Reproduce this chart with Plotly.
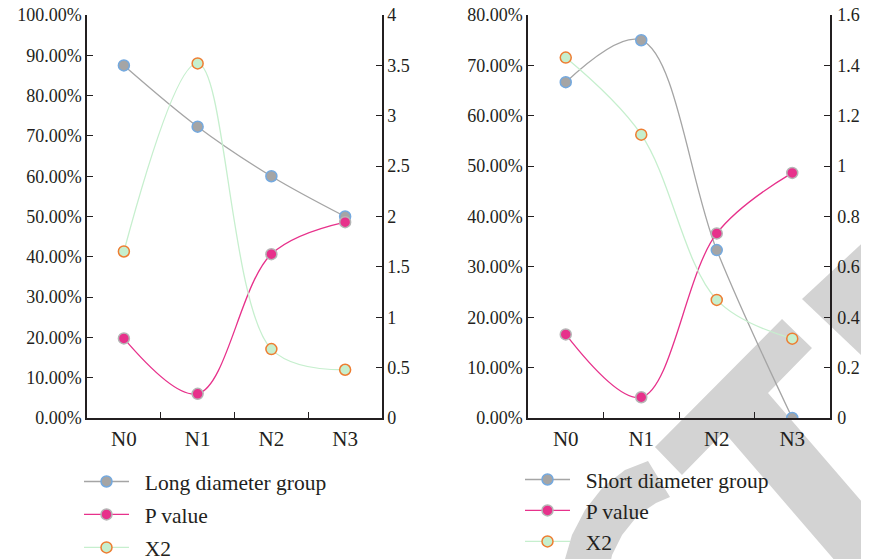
import plotly.graph_objects as go

categories = ["N0", "N1", "N2", "N3"]

# Left chart
long_group = [0.875, 0.723, 0.600, 0.500]
long_p = [0.1975, 0.060, 0.4066, 0.486]
long_x2 = [1.653, 3.52, 0.684, 0.479]

# Right chart
short_group = [0.6667, 0.750, 0.3333, 0.0]
short_p = [0.166, 0.0412, 0.3665, 0.4866]
short_x2 = [1.431, 1.125, 0.469, 0.315]

left_pct_ticks = [i / 10 for i in range(11)]
left_x2_ticks = [0, 0.5, 1, 1.5, 2, 2.5, 3, 3.5, 4]
right_pct_ticks = [i / 10 for i in range(9)]
right_x2_ticks = [0, 0.2, 0.4, 0.6, 0.8, 1, 1.2, 1.4, 1.6]

W, H = 869, 559
OFF = 8  # page body margin
MT = 15 - OFF
MB = H - (418 - OFF)
PH = H - MT - MB

FONT = "Liberation Serif"
GRAY = "#a5a5a5"
PINK = "#e7318b"
GREEN = "#c6efce"
BLUE = "#74a9df"
ORANGE = "#ee7d31"
NB = "\u00a0\u00a0"


def px_x(x):
    return (x - OFF) / W


def px_y(y):
    return (H - MB - (y - OFF)) / PH


def path(points):
    s = "M " + " L ".join(f"{px_x(x):.4f},{px_y(y):.4f}" for x, y in points) + " Z"
    return s


fig = go.Figure()


def add_series(xa, ya, ya2, grp, p, x2, name, legend, gid):
    fig.add_trace(go.Scatter(
        x=categories, y=grp, name=NB + name, xaxis=xa, yaxis=ya, legend=legend,
        legendgroup=gid + "a",
        mode="lines+markers", line=dict(color=GRAY, width=1.3, shape="spline", smoothing=1),
        marker=dict(size=11, color=GRAY, line=dict(color=BLUE, width=1.5))))
    fig.add_trace(go.Scatter(
        x=categories, y=p, name=NB + "P value", xaxis=xa, yaxis=ya, legend=legend,
        legendgroup=gid + "b",
        mode="lines+markers", line=dict(color=PINK, width=1.3, shape="spline", smoothing=1),
        marker=dict(size=11, color=PINK, line=dict(color="#b5b5b5", width=1.5))))
    fig.add_trace(go.Scatter(
        x=categories, y=x2, name=NB + "X2", xaxis=xa, yaxis=ya2, legend=legend,
        legendgroup=gid + "c",
        mode="lines+markers", line=dict(color=GREEN, width=1.3, shape="spline", smoothing=1),
        marker=dict(size=11, color=GREEN, line=dict(color=ORANGE, width=1.5))))


add_series("x", "y", "y2", long_group, long_p, long_x2, "Long diameter group", "legend", "L")
add_series("x2", "y3", "y4", short_group, short_p, short_x2, "Short diameter group", "legend2", "R")

yfont = dict(family=FONT, size=18, color="#231f20")
xfont = dict(family=FONT, size=21, color="#231f20")
axis_common = dict(showline=True, linecolor="#231f20", linewidth=1.5, ticks="inside",
                   ticklen=6, tickwidth=1.3, tickcolor="#231f20", showgrid=False,
                   zeroline=False, automargin=False, ticklabeloverflow="allow")

fig.update_layout(
    width=W, height=H,
    margin=dict(l=0, r=0, t=MT, b=MB, autoexpand=False),
    paper_bgcolor="white", plot_bgcolor="rgba(0,0,0,0)",
    font=dict(family=FONT, size=18, color="#231f20"),
    xaxis=dict(domain=[px_x(87), px_x(382)], anchor="y", range=[-0.5, 3.5],
               tickson="boundaries", tickfont=xfont, ticklabelstandoff=1, **axis_common),
    yaxis=dict(anchor="x", range=[0, 1.0001], tickvals=left_pct_ticks, tickformat=".2%",
               tickfont=yfont, ticklabelstandoff=0, **axis_common),
    yaxis2=dict(anchor="x", overlaying="y", side="right", range=[0, 4.0004],
                tickvals=left_x2_ticks, tickfont=yfont, ticklabelstandoff=0, **axis_common),
    xaxis2=dict(domain=[px_x(528), px_x(830)], anchor="y3", range=[-0.5, 3.5],
                tickson="boundaries", tickfont=xfont, ticklabelstandoff=1, **axis_common),
    yaxis3=dict(anchor="x2", range=[0, 0.80008], tickvals=right_pct_ticks, tickformat=".2%",
                tickfont=yfont, ticklabelstandoff=0, **axis_common),
    yaxis4=dict(anchor="x2", overlaying="y3", side="right", range=[0, 1.60016],
                tickvals=right_x2_ticks, tickfont=yfont, ticklabelstandoff=2, **axis_common),
    legend=dict(x=px_x(79), y=px_y(461), xanchor="left", yanchor="top",
                bgcolor="rgba(0,0,0,0)", font=dict(family=FONT, size=21.5),
                itemwidth=45, tracegroupgap=2, traceorder="grouped"),
    legend2=dict(x=px_x(520), y=px_y(459), xanchor="left", yanchor="top",
                 bgcolor="rgba(0,0,0,0)", font=dict(family=FONT, size=21.5),
                 itemwidth=45, tracegroupgap=0, traceorder="grouped"),
    showlegend=True,
)

WM = "#d3d3d3"
shapes = [
    dict(type="path", xref="paper", yref="paper", layer="below", line=dict(width=0),
         fillcolor=WM,
         path=path([(655, 447), (782, 319), (812, 348), (768, 393), (920, 569),
                    (920, 620), (886, 620), (724, 432), (682, 475)])),
    dict(type="path", xref="paper", yref="paper", layer="below", line=dict(width=0),
         fillcolor=WM,
         path=path([(802, 299), (900, 208), (900, 392)])),
    dict(type="path", xref="paper", yref="paper", layer="below", line=dict(width=0),
         fillcolor=WM,
         path=path([(648, 461), (625, 470), (603, 487), (585, 510), (572, 535), (565, 559),
                    (563, 575), (608, 575), (612, 555), (622, 535), (638, 515), (656, 503),
                    (670, 497)])),
]
fig.update_layout(shapes=shapes)

fig.write_html("out.html")
